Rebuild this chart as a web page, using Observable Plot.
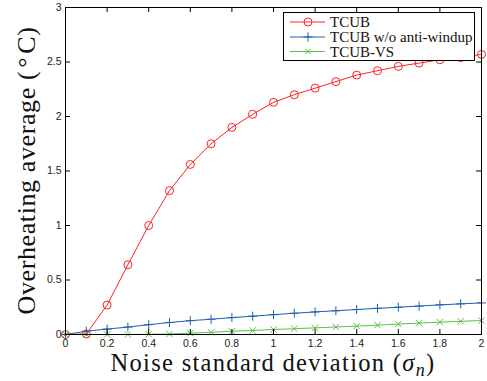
<!DOCTYPE html>
<html><head><meta charset="utf-8">
<script src="https://cdn.jsdelivr.net/npm/d3@7"></script>
<script src="https://cdn.jsdelivr.net/npm/@observablehq/plot@0.6"></script>
<style>body{margin:0;background:#fff;} svg{display:block}</style>
</head><body><div id="chart"></div>
<script>
const sigma     = [0, 0.1, 0.2, 0.3, 0.4, 0.5, 0.6, 0.7, 0.8, 0.9, 1.0, 1.1, 1.2, 1.3, 1.4, 1.5, 1.6, 1.7, 1.8, 1.9, 2.0];
const tcub      = [0, 0.005, 0.27, 0.64, 1.0, 1.32, 1.56, 1.75, 1.9, 2.02, 2.13, 2.2, 2.26, 2.32, 2.38, 2.42, 2.46, 2.49, 2.52, 2.54, 2.57];
const tcubNoAW  = [0, 0.03, 0.05, 0.068, 0.09, 0.11, 0.127, 0.14, 0.155, 0.168, 0.182, 0.195, 0.207, 0.218, 0.229, 0.24, 0.25, 0.261, 0.272, 0.281, 0.29];
const tcubVS    = [0, 0, 0, 0, 0.002, 0.005, 0.012, 0.02, 0.03, 0.037, 0.046, 0.053, 0.061, 0.069, 0.077, 0.086, 0.096, 0.104, 0.113, 0.121, 0.128];
const xTicks = [0, 0.2, 0.4, 0.6, 0.8, 1, 1.2, 1.4, 1.6, 1.8, 2];
const yTicks = [0, 0.5, 1, 1.5, 2, 2.5, 3];
const seriesNames  = ["TCUB", "TCUB w/o anti-windup", "TCUB-VS"];
const seriesColors = ["#ff2222", "#1f5faf", "#5cbf4a"];
const seriesSymbols = ["circle", "plus", "times"];
const xLabel = "Noise standard deviation (";
const yLabel = "Overheating average (";

const seriesValues = [tcub, tcubNoAW, tcubVS];
const rows = seriesNames.flatMap((name, i) => sigma.map((s, j) => ({series: name, sigma: s, value: seriesValues[i][j]})));

const W = 487, H = 381, mL = 65, mR = 6, mT = 7, mB = 47;
const plotW = W - mL - mR, plotH = H - mT - mB;

const chart = Plot.plot({
  width: W, height: H,
  marginLeft: mL, marginRight: mR, marginTop: mT, marginBottom: mB,
  x: {domain: [0, 2]},
  y: {domain: [0, 3]},
  color: {domain: seriesNames, range: seriesColors},
  style: {fontFamily: "'Liberation Sans', Arial, sans-serif", fontSize: "10.5px", color: "#222", background: "#fff"},
  marks: [
    Plot.line(rows, {x: "sigma", y: "value", z: "series", stroke: "series", strokeWidth: 1}),
    Plot.dot(rows.filter(d => d.series === seriesNames[0]), {x: "sigma", y: "value", stroke: "series", symbol: "circle", r: 4, strokeWidth: 1}),
    Plot.dot(rows.filter(d => d.series === seriesNames[1]), {x: "sigma", y: "value", stroke: "series", symbol: "plus", r: 3, strokeWidth: 1}),
    Plot.dot(rows.filter(d => d.series === seriesNames[2]), {x: "sigma", y: "value", stroke: "series", symbol: "times", r: 3, strokeWidth: 1}),
    Plot.frame({stroke: "#000", strokeWidth: 1}),
    Plot.tickX(xTicks, {x: d => d, insetTop: plotH - 5, stroke: "#000"}),
    Plot.tickX(xTicks, {x: d => d, insetBottom: plotH - 5, stroke: "#000"}),
    Plot.tickY(yTicks, {y: d => d, insetRight: plotW - 5, stroke: "#000"}),
    Plot.tickY(yTicks, {y: d => d, insetLeft: plotW - 5, stroke: "#000"}),
    Plot.axisX({ticks: xTicks, tickSize: 0, tickPadding: 5, label: null, tickFormat: d => String(d)}),
    Plot.axisY({ticks: yTicks, tickSize: 0, tickPadding: 4, label: null, tickFormat: d => String(d)})
  ]
});
document.getElementById("chart").appendChild(chart);

const svg = d3.select(chart);
const serif = "'Liberation Serif', 'Times New Roman', serif";

// x label
const xl = svg.append("text").attr("x", mL + plotW / 2).attr("y", 370.5)
  .style("text-anchor", "middle").style("letter-spacing", "1.3px")
  .attr("font-family", serif).attr("font-size", 24.5).attr("fill", "#111");
xl.append("tspan").text(xLabel);
xl.append("tspan").attr("font-style", "italic").text("σ");
xl.append("tspan").attr("font-style", "italic").attr("font-size", 18).attr("dy", 5).text("n");
xl.append("tspan").attr("dy", -5).text(")");

// y label
const yl = svg.append("text").attr("transform", `translate(35,${mT + plotH / 2}) rotate(-90)`)
  .style("text-anchor", "middle").style("letter-spacing", "0.6px")
  .attr("font-family", serif).attr("font-size", 26).attr("fill", "#111");
yl.append("tspan").text(yLabel);
yl.append("tspan").attr("dx", 3).text("°");
yl.append("tspan").attr("dx", 3).text("C)");

// legend
const lg = svg.append("g").attr("class", "legend-box");
lg.append("rect").attr("x", 283.5).attr("y", 12.5).attr("width", 191).attr("height", 48)
  .style("fill", "#ffffff").style("stroke", "#000000").style("stroke-width", "1px");
const lys = [22, 37, 51.5];
seriesNames.forEach((name, i) => {
  const y = lys[i];
  lg.append("line").attr("x1", 290).attr("x2", 325).attr("y1", y).attr("y2", y)
    .style("stroke", seriesColors[i]).style("stroke-width", "1px");
  const sym = {circle: d3.symbolCircle, plus: d3.symbolPlus, times: d3.symbolTimes}[seriesSymbols[i]];
  const sz = [50, 30, 20][i];
  lg.append("path").attr("d", d3.symbol(sym, sz)()).attr("transform", `translate(308,${y})`)
    .style("fill", "none").style("stroke", seriesColors[i]).style("stroke-width", "1px");
  lg.append("text").attr("x", 330).attr("y", y + 5).style("text-anchor", "start")
    .attr("font-family", serif).attr("font-size", 15).attr("fill", "#111").text(name);
});
</script>
</body></html>
